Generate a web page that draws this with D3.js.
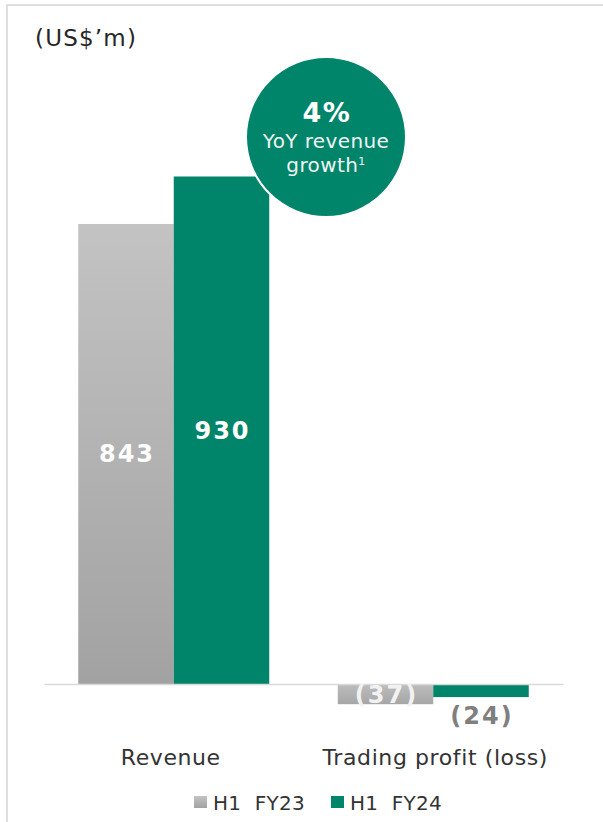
<!DOCTYPE html>
<html>
<head>
<meta charset="utf-8">
<script src="https://cdn.jsdelivr.net/npm/d3@7"></script>
<style>
html,body{margin:0;padding:0;background:#fff;}
svg{display:block;font-family:"DejaVu Sans",Verdana,sans-serif;}
</style>
</head>
<body>
<svg id="chart" width="603" height="822"></svg>
<script>
const categories = ["Revenue", "Trading profit (loss)"];
const seriesNames = ["H1\u00a0 FY23", "H1\u00a0 FY24"];
const fy23 = [843, -37];
const fy24 = [930, -24];
const valueLabels23 = ["843", "(37)"];
const valueLabels24 = ["930", "(24)"];
const unitLabel = "(US$\u2019m)";
const calloutValue = "4%";
const calloutLines = ["YoY revenue", "growth"];

const svg = d3.select("#chart");
const GREEN = "#00856a";

// gradients
const defs = svg.append("defs");
const g1 = defs.append("linearGradient").attr("id","grayGrad").attr("x1",0).attr("y1",0).attr("x2",0).attr("y2",1);
g1.append("stop").attr("offset","0%").attr("stop-color","#c3c3c3");
g1.append("stop").attr("offset","100%").attr("stop-color","#a2a2a2");
const g2 = defs.append("linearGradient").attr("id","grayGradNeg").attr("x1",0).attr("y1",0).attr("x2",0).attr("y2",1);
g2.append("stop").attr("offset","0%").attr("stop-color","#bdbdbd");
g2.append("stop").attr("offset","100%").attr("stop-color","#a6a6a6");

// frame
svg.append("line").attr("x1",7).attr("x2",7).attr("y1",4.5).attr("y2",822).attr("stroke","#d4d4d4").attr("stroke-width",1.5);
svg.append("line").attr("x1",6.5).attr("x2",603).attr("y1",5).attr("y2",5).attr("stroke","#d4d4d4").attr("stroke-width",1.5);

const x = d3.scaleBand().domain(categories).range([44, 563]).paddingInner(0.264).paddingOuter(0.132);
const xs = d3.scaleBand().domain([0,1]).range([0, x.bandwidth()]).padding(0);
const y = d3.scaleLinear().domain([0, 930]).range([684, 176.5]);

const data = [];
categories.forEach((c,i)=>{
  data.push({cat:c, s:0, v:fy23[i], label:valueLabels23[i]});
  data.push({cat:c, s:1, v:fy24[i], label:valueLabels24[i]});
});

// bars
svg.append("g").selectAll("rect").data(data).join("rect")
  .attr("x", d=>x(d.cat)+xs(d.s))
  .attr("width", xs.bandwidth())
  .attr("y", d=>y(Math.max(0,d.v)))
  .attr("height", d=>Math.abs(y(d.v)-y(0)))
  .attr("fill", d=> d.s===1 ? GREEN : (d.v<0 ? "url(#grayGradNeg)" : "url(#grayGrad)"));

// axis baseline
const xAxis = d3.axisBottom(x).tickSize(0).tickPadding(0);
const ax = svg.append("g").attr("transform",`translate(0,${y(0)})`).call(xAxis);
ax.select(".domain").attr("stroke","#d9d9d9").attr("stroke-width",1.5);
ax.selectAll(".tick text").remove();

// category labels
svg.append("g").selectAll("text").data(categories).join("text")
  .attr("x", (d,i)=> x(d)+x.bandwidth()/2 + (i===0?-3:2))
  .attr("y", 765)
  .attr("text-anchor","middle")
  .attr("font-size",22)
  .attr("letter-spacing",0.6)
  .attr("fill","#333")
  .text(d=>d);

// value labels
svg.append("g").selectAll("text").data(data).join("text")
  .attr("x", d=>x(d.cat)+xs(d.s)+xs.bandwidth()/2 + 1)
  .attr("y", d=>{
    if (d.v>=0) return (y(d.v)+y(0))/2 + 8.5;
    if (d.s===0) return (y(d.v)+y(0))/2 + 9;
    return y(d.v) + 27;
  })
  .attr("text-anchor","middle")
  .attr("font-size",24)
  .attr("letter-spacing",2)
  .attr("font-weight","bold")
  .attr("fill", d=> d.v>=0 ? "#ffffff" : (d.s===0 ? "#f2f2f2" : "#7f7f7f"))
  .text(d=>d.label);

// unit label
svg.append("text").attr("x",35).attr("y",46).attr("font-size",23).attr("letter-spacing",1.2).attr("fill","#262626").text(unitLabel);

// callout circle
const cx = 326, cy = 137, r = 80;
svg.append("circle").attr("cx",cx).attr("cy",cy).attr("r",r).attr("fill",GREEN).attr("stroke","#fff").attr("stroke-width",2);
svg.append("text").attr("x",cx+1).attr("y",122).attr("text-anchor","middle").attr("font-size",27).attr("letter-spacing",1.5).attr("font-weight","bold").attr("fill","#fff").text(calloutValue);
svg.append("text").attr("x",cx).attr("y",148).attr("text-anchor","middle").attr("font-size",20).attr("letter-spacing",0.4).attr("fill","#f0f5f3").text(calloutLines[0]);
const t2 = svg.append("text").attr("x",cx).attr("y",172).attr("text-anchor","middle").attr("font-size",20).attr("letter-spacing",0.4).attr("fill","#f0f5f3");
t2.append("tspan").text(calloutLines[1]);
t2.append("tspan").attr("font-size",11).attr("dy",-7).text("1");

// legend
const legend = svg.append("g");
const legX = [194, 331];
seriesNames.forEach((s,i)=>{
  legend.append("rect").attr("x",legX[i]).attr("y",796).attr("width",13).attr("height",12)
    .attr("fill", i===0 ? "url(#grayGrad)" : GREEN);
  legend.append("text").attr("x",legX[i]+19).attr("y",810).attr("font-size",20).attr("letter-spacing",0.3).attr("fill","#333").text(s);
});
</script>
</body>
</html>
